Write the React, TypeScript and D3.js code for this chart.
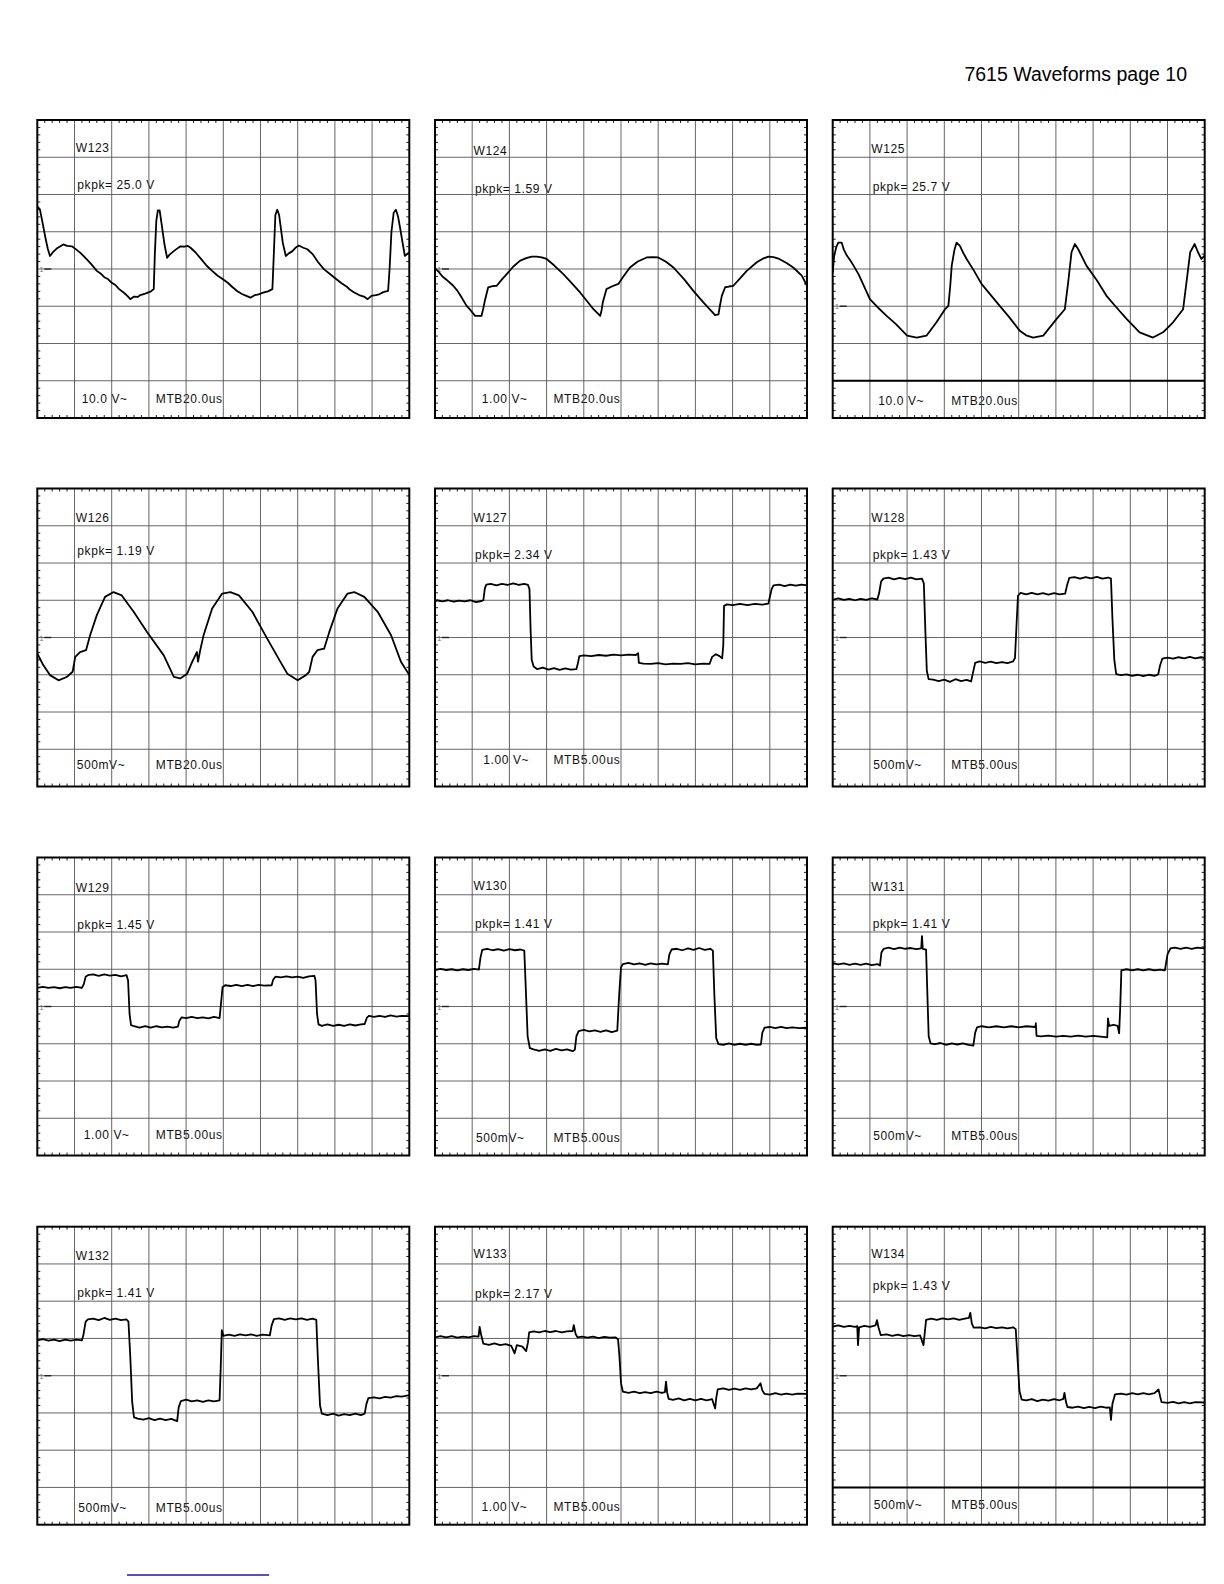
import * as d3 from "d3";

type Pt = [number, number];

// screen is 10 x 8 divisions; x in div from left, y in div above centre
const PAGE_TITLE = "7615 Waveforms page 10";
const NAMES = ["W123", "W124", "W125", "W126", "W127", "W128", "W129", "W130", "W131", "W132", "W133", "W134"];
const PKPK = ["25.0 V", "1.59 V", "25.7 V", "1.19 V", "2.34 V", "1.43 V", "1.45 V", "1.41 V", "1.41 V", "1.41 V", "2.17 V", "1.43 V"];
const VOLTS = ["10.0 V~", "1.00 V~", "10.0 V~", "500mV~", "1.00 V~", "500mV~", "1.00 V~", "500mV~", "500mV~", "500mV~", "1.00 V~", "500mV~"];
const TIMEBASE = ["MTB20.0us", "MTB20.0us", "MTB20.0us", "MTB20.0us", "MTB5.00us", "MTB5.00us", "MTB5.00us", "MTB5.00us", "MTB5.00us", "MTB5.00us", "MTB5.00us", "MTB5.00us"];
const GROUND = [0, 0, -1, 0, 0, 0, 0, 0, 0, 0, 0, 0];
const REF_LINE: (number | null)[] = [null, null, -3, null, null, null, null, null, null, null, null, -3];

const W123: Pt[] = [[0,1.68],[0.07,1.6],[0.14,1.25],[0.21,0.88],[0.28,0.55],[0.34,0.35],[0.42,0.45],[0.52,0.55],[0.6,0.6],[0.7,0.66],[0.8,0.62],[0.93,0.61],[1.05,0.52],[1.15,0.44],[1.24,0.35],[1.35,0.24],[1.45,0.13],[1.6,-0.05],[1.7,-0.12],[1.8,-0.22],[1.9,-0.27],[2.0,-0.37],[2.1,-0.43],[2.2,-0.54],[2.32,-0.63],[2.42,-0.72],[2.5,-0.81],[2.6,-0.74],[2.7,-0.75],[2.77,-0.7],[2.9,-0.66],[3.04,-0.61],[3.13,-0.54],[3.16,0.4],[3.2,1.3],[3.24,1.57],[3.29,1.57],[3.35,1.15],[3.42,0.65],[3.49,0.3],[3.55,0.38],[3.62,0.44],[3.72,0.52],[3.85,0.61],[3.95,0.6],[4.05,0.62],[4.12,0.57],[4.25,0.45],[4.4,0.27],[4.56,0.08],[4.7,-0.05],[4.85,-0.18],[5.0,-0.28],[5.12,-0.37],[5.25,-0.49],[5.37,-0.59],[5.5,-0.67],[5.62,-0.72],[5.73,-0.77],[5.85,-0.7],[5.95,-0.68],[6.09,-0.63],[6.2,-0.6],[6.32,-0.54],[6.36,0.45],[6.4,1.45],[6.45,1.59],[6.5,1.45],[6.54,1.15],[6.6,0.7],[6.68,0.35],[6.76,0.42],[6.86,0.48],[6.95,0.58],[7.03,0.63],[7.15,0.57],[7.26,0.53],[7.4,0.4],[7.55,0.18],[7.71,-0.01],[7.85,-0.12],[8.0,-0.24],[8.16,-0.37],[8.3,-0.46],[8.4,-0.55],[8.52,-0.63],[8.65,-0.7],[8.78,-0.74],[8.88,-0.81],[8.98,-0.72],[9.1,-0.7],[9.19,-0.68],[9.3,-0.62],[9.43,-0.59],[9.47,0.0],[9.52,1.0],[9.58,1.51],[9.64,1.59],[9.7,1.4],[9.76,1.06],[9.82,0.7],[9.88,0.35],[9.94,0.4],[10,0.44]];
const W124: Pt[] = [[0,0.02],[0.1,-0.08],[0.2,-0.2],[0.3,-0.28],[0.49,-0.45],[0.6,-0.58],[0.7,-0.74],[0.85,-0.99],[0.95,-1.1],[1.08,-1.26],[1.25,-1.26],[1.3,-1.05],[1.34,-0.85],[1.43,-0.49],[1.55,-0.46],[1.66,-0.45],[1.8,-0.28],[1.97,-0.09],[2.1,0.06],[2.28,0.22],[2.45,0.29],[2.6,0.33],[2.73,0.33],[2.87,0.31],[3.0,0.27],[3.2,0.1],[3.45,-0.14],[3.65,-0.35],[3.9,-0.63],[4.1,-0.88],[4.26,-1.08],[4.44,-1.26],[4.48,-1.1],[4.51,-0.9],[4.61,-0.54],[4.75,-0.47],[4.93,-0.4],[5.05,-0.22],[5.24,0.04],[5.45,0.2],[5.69,0.31],[5.85,0.32],[6.0,0.31],[6.2,0.2],[6.41,0.04],[6.7,-0.28],[6.94,-0.58],[7.12,-0.79],[7.3,-0.99],[7.45,-1.15],[7.53,-1.24],[7.62,-1.22],[7.66,-0.98],[7.71,-0.72],[7.8,-0.49],[7.9,-0.47],[8.02,-0.45],[8.2,-0.25],[8.38,-0.05],[8.65,0.18],[8.8,0.27],[8.96,0.33],[9.1,0.32],[9.23,0.28],[9.45,0.16],[9.63,0.04],[9.86,-0.18],[10,-0.45]];
const W125: Pt[] = [[0,-0.09],[0.04,0.36],[0.1,0.6],[0.15,0.71],[0.24,0.71],[0.3,0.52],[0.38,0.36],[0.48,0.22],[0.56,0.09],[0.7,-0.15],[0.85,-0.48],[1.0,-0.81],[1.2,-1.02],[1.45,-1.26],[1.7,-1.48],[2.0,-1.79],[2.26,-1.84],[2.52,-1.79],[2.79,-1.43],[3.02,-1.08],[3.11,-0.99],[3.16,-0.45],[3.2,0.09],[3.27,0.5],[3.33,0.71],[3.42,0.62],[3.5,0.45],[3.6,0.27],[3.8,-0.05],[4.0,-0.4],[4.25,-0.7],[4.49,-0.99],[4.75,-1.3],[5.03,-1.66],[5.2,-1.78],[5.39,-1.84],[5.66,-1.79],[6.02,-1.34],[6.24,-1.08],[6.33,-0.36],[6.42,0.45],[6.51,0.67],[6.6,0.53],[6.7,0.33],[6.82,0.09],[7.1,-0.3],[7.36,-0.72],[7.6,-1.0],[7.9,-1.34],[8.25,-1.7],[8.61,-1.84],[8.88,-1.7],[9.15,-1.43],[9.42,-1.08],[9.51,-0.36],[9.61,0.45],[9.73,0.67],[9.82,0.45],[9.91,0.27],[10,0.36]];
const W126: Pt[] = [[0,-0.43],[0.16,-0.74],[0.34,-1.01],[0.57,-1.15],[0.79,-1.06],[0.95,-0.92],[1.02,-0.52],[1.15,-0.39],[1.31,-0.34],[1.42,0.06],[1.6,0.6],[1.82,1.09],[2.05,1.22],[2.27,1.13],[2.59,0.69],[2.95,0.15],[3.4,-0.48],[3.67,-1.06],[3.84,-1.1],[4.03,-0.97],[4.16,-0.66],[4.29,-0.39],[4.32,-0.65],[4.38,-0.34],[4.47,0.06],[4.7,0.78],[4.97,1.18],[5.19,1.22],[5.42,1.13],[5.78,0.69],[6.18,-0.03],[6.54,-0.66],[6.72,-0.97],[7.0,-1.15],[7.22,-1.01],[7.31,-0.92],[7.4,-0.52],[7.53,-0.34],[7.71,-0.3],[7.85,0.15],[8.07,0.78],[8.34,1.18],[8.52,1.22],[8.79,1.09],[9.15,0.69],[9.51,0.06],[9.78,-0.66],[10,-1.01]];
const W127: Pt[] = [[0,0.96],[0.05,1.0],[0.2,0.97],[0.35,1.0],[0.5,0.96],[0.65,0.99],[0.8,0.97],[0.95,1.0],[1.1,0.95],[1.25,0.98],[1.3,1.0],[1.34,1.32],[1.38,1.42],[1.5,1.44],[1.65,1.4],[1.8,1.44],[1.95,1.41],[2.1,1.45],[2.25,1.41],[2.4,1.44],[2.5,1.41],[2.54,1.3],[2.57,0.2],[2.6,-0.6],[2.65,-0.78],[2.75,-0.85],[2.9,-0.81],[3.05,-0.86],[3.2,-0.82],[3.35,-0.87],[3.5,-0.83],[3.65,-0.86],[3.8,-0.85],[3.84,-0.7],[3.88,-0.5],[4.0,-0.48],[4.2,-0.5],[4.4,-0.47],[4.6,-0.49],[4.8,-0.46],[5.0,-0.48],[5.2,-0.46],[5.4,-0.47],[5.46,-0.42],[5.48,-0.68],[5.6,-0.7],[5.8,-0.71],[6.0,-0.69],[6.2,-0.72],[6.4,-0.7],[6.6,-0.71],[6.8,-0.69],[7.0,-0.72],[7.2,-0.7],[7.38,-0.71],[7.45,-0.52],[7.55,-0.45],[7.65,-0.5],[7.72,-0.56],[7.75,-0.2],[7.77,0.85],[7.85,0.89],[8.0,0.87],[8.2,0.9],[8.4,0.87],[8.6,0.9],[8.8,0.88],[8.96,0.91],[9.05,1.3],[9.1,1.4],[9.25,1.42],[9.4,1.38],[9.55,1.42],[9.7,1.39],[9.85,1.42],[10,1.4]];
const W128: Pt[] = [[0,1.01],[0.15,1.05],[0.3,1.01],[0.45,1.04],[0.6,1.0],[0.75,1.04],[0.9,1.01],[1.05,1.05],[1.2,1.02],[1.25,1.2],[1.3,1.5],[1.36,1.58],[1.5,1.61],[1.65,1.56],[1.8,1.6],[1.95,1.57],[2.1,1.61],[2.25,1.56],[2.4,1.58],[2.45,1.45],[2.49,0.2],[2.53,-0.9],[2.58,-1.12],[2.7,-1.13],[2.85,-1.17],[3.0,-1.13],[3.15,-1.19],[3.3,-1.12],[3.45,-1.17],[3.6,-1.14],[3.72,-1.18],[3.77,-0.95],[3.83,-0.68],[3.95,-0.64],[4.1,-0.68],[4.25,-0.65],[4.4,-0.69],[4.55,-0.66],[4.7,-0.69],[4.85,-0.64],[4.9,-0.55],[4.94,0.3],[4.98,1.12],[5.05,1.2],[5.2,1.16],[5.35,1.2],[5.5,1.16],[5.65,1.19],[5.8,1.15],[5.95,1.19],[6.1,1.16],[6.25,1.18],[6.3,1.4],[6.36,1.6],[6.5,1.62],[6.65,1.58],[6.8,1.62],[6.95,1.59],[7.1,1.63],[7.25,1.58],[7.4,1.61],[7.48,1.58],[7.52,0.5],[7.57,-0.6],[7.62,-0.98],[7.75,-1.01],[7.9,-0.99],[8.05,-1.03],[8.2,-1.0],[8.35,-1.04],[8.5,-1.0],[8.65,-1.03],[8.75,-0.99],[8.8,-0.75],[8.86,-0.57],[9.0,-0.54],[9.15,-0.57],[9.3,-0.53],[9.45,-0.56],[9.6,-0.52],[9.75,-0.56],[9.9,-0.53],[10,-0.55]];
const W129: Pt[] = [[0,0.5],[0.15,0.53],[0.3,0.5],[0.45,0.52],[0.6,0.49],[0.75,0.52],[0.9,0.5],[1.05,0.53],[1.2,0.5],[1.25,0.6],[1.3,0.8],[1.36,0.84],[1.5,0.86],[1.65,0.82],[1.8,0.86],[1.95,0.83],[2.1,0.85],[2.25,0.81],[2.4,0.84],[2.44,0.7],[2.48,-0.2],[2.52,-0.5],[2.6,-0.53],[2.75,-0.57],[2.9,-0.53],[3.05,-0.57],[3.2,-0.53],[3.35,-0.56],[3.5,-0.54],[3.65,-0.57],[3.78,-0.54],[3.82,-0.38],[3.88,-0.29],[4.0,-0.31],[4.15,-0.28],[4.3,-0.31],[4.45,-0.29],[4.6,-0.32],[4.75,-0.28],[4.9,-0.31],[4.94,0.1],[4.98,0.52],[5.05,0.57],[5.2,0.55],[5.35,0.58],[5.5,0.55],[5.65,0.58],[5.8,0.55],[5.95,0.58],[6.1,0.56],[6.3,0.57],[6.34,0.72],[6.4,0.8],[6.55,0.78],[6.7,0.81],[6.85,0.78],[7.0,0.8],[7.15,0.77],[7.3,0.81],[7.45,0.82],[7.48,0.7],[7.52,-0.2],[7.56,-0.48],[7.65,-0.52],[7.8,-0.48],[7.95,-0.52],[8.1,-0.49],[8.25,-0.52],[8.4,-0.48],[8.55,-0.51],[8.7,-0.48],[8.8,-0.47],[8.86,-0.3],[8.92,-0.25],[9.05,-0.28],[9.2,-0.25],[9.35,-0.28],[9.5,-0.24],[9.65,-0.27],[9.8,-0.25],[10,-0.26]];
const W130: Pt[] = [[0,0.98],[0.15,1.01],[0.3,0.98],[0.45,1.0],[0.6,0.97],[0.75,1.0],[0.9,0.98],[1.05,1.01],[1.18,0.99],[1.22,1.3],[1.27,1.52],[1.4,1.55],[1.55,1.51],[1.7,1.54],[1.85,1.5],[2.0,1.54],[2.15,1.51],[2.3,1.53],[2.4,1.5],[2.44,0.5],[2.49,-0.8],[2.55,-1.12],[2.65,-1.15],[2.8,-1.19],[2.95,-1.15],[3.1,-1.19],[3.25,-1.14],[3.4,-1.18],[3.55,-1.15],[3.7,-1.2],[3.76,-1.16],[3.8,-0.8],[3.86,-0.66],[4.0,-0.63],[4.15,-0.67],[4.3,-0.64],[4.45,-0.68],[4.6,-0.64],[4.75,-0.69],[4.9,-0.65],[4.95,0.3],[5.0,1.05],[5.05,1.14],[5.2,1.17],[5.35,1.13],[5.5,1.16],[5.65,1.12],[5.8,1.16],[5.95,1.13],[6.1,1.15],[6.26,1.13],[6.3,1.4],[6.36,1.53],[6.5,1.55],[6.65,1.51],[6.8,1.56],[6.95,1.52],[7.1,1.57],[7.25,1.52],[7.4,1.55],[7.47,1.5],[7.51,0.3],[7.56,-0.85],[7.62,-1.01],[7.75,-1.03],[7.9,-0.99],[8.05,-1.03],[8.2,-1.0],[8.35,-1.03],[8.5,-1.0],[8.65,-1.03],[8.76,-1.02],[8.8,-0.7],[8.86,-0.57],[9.0,-0.55],[9.15,-0.58],[9.3,-0.55],[9.45,-0.58],[9.6,-0.56],[9.8,-0.58],[10,-0.57]];
const W131: Pt[] = [[0,1.1],[0.02,1.16],[0.15,1.13],[0.3,1.16],[0.45,1.12],[0.6,1.15],[0.75,1.12],[0.9,1.15],[1.05,1.11],[1.2,1.14],[1.27,1.1],[1.31,1.45],[1.37,1.55],[1.5,1.58],[1.65,1.54],[1.8,1.58],[1.95,1.55],[2.1,1.57],[2.25,1.54],[2.38,1.56],[2.4,1.89],[2.42,1.55],[2.51,1.53],[2.54,0.5],[2.58,-0.8],[2.63,-0.99],[2.75,-1.01],[2.9,-0.98],[3.05,-1.03],[3.2,-0.99],[3.35,-1.02],[3.5,-0.99],[3.65,-1.03],[3.78,-1.05],[3.83,-0.7],[3.88,-0.56],[4.0,-0.53],[4.2,-0.56],[4.4,-0.53],[4.6,-0.56],[4.8,-0.53],[5.0,-0.56],[5.2,-0.53],[5.45,-0.55],[5.46,-0.45],[5.48,-0.79],[5.6,-0.8],[5.8,-0.78],[6.0,-0.81],[6.2,-0.79],[6.4,-0.81],[6.6,-0.78],[6.8,-0.81],[7.0,-0.79],[7.2,-0.81],[7.38,-0.83],[7.4,-0.32],[7.43,-0.52],[7.55,-0.49],[7.66,-0.52],[7.7,-0.72],[7.73,0.0],[7.76,0.97],[7.9,1.0],[8.05,0.97],[8.2,1.0],[8.35,0.97],[8.5,1.0],[8.65,0.97],[8.8,0.99],[8.93,0.97],[9.0,1.4],[9.08,1.56],[9.2,1.58],[9.35,1.55],[9.5,1.58],[9.65,1.55],[9.8,1.58],[10,1.56]];
const W132: Pt[] = [[0,0.95],[0.15,0.98],[0.3,0.94],[0.45,0.97],[0.6,0.93],[0.75,0.97],[0.9,0.94],[1.05,0.97],[1.2,0.95],[1.24,1.1],[1.3,1.45],[1.36,1.51],[1.5,1.53],[1.65,1.49],[1.8,1.55],[1.95,1.5],[2.1,1.53],[2.25,1.49],[2.4,1.51],[2.45,1.45],[2.5,0.5],[2.55,-0.7],[2.6,-1.12],[2.7,-1.15],[2.85,-1.18],[3.0,-1.14],[3.15,-1.19],[3.3,-1.15],[3.45,-1.19],[3.6,-1.16],[3.76,-1.22],[3.8,-0.85],[3.86,-0.68],[4.0,-0.64],[4.15,-0.69],[4.3,-0.66],[4.45,-0.7],[4.6,-0.66],[4.75,-0.69],[4.9,-0.66],[4.93,0.2],[4.96,1.22],[5.0,1.07],[5.15,1.1],[5.3,1.07],[5.45,1.11],[5.6,1.08],[5.75,1.11],[5.9,1.07],[6.05,1.1],[6.25,1.08],[6.3,1.35],[6.36,1.52],[6.5,1.54],[6.65,1.5],[6.8,1.54],[6.95,1.51],[7.1,1.54],[7.25,1.5],[7.4,1.53],[7.5,1.5],[7.54,0.5],[7.6,-0.8],[7.65,-1.02],[7.8,-1.06],[7.95,-1.02],[8.1,-1.07],[8.25,-1.03],[8.4,-1.06],[8.55,-1.02],[8.7,-1.06],[8.8,-1.02],[8.85,-0.75],[8.9,-0.6],[9.05,-0.58],[9.2,-0.61],[9.35,-0.57],[9.5,-0.59],[9.65,-0.55],[9.8,-0.56],[10,-0.52]];
const W133: Pt[] = [[0,1.03],[0.15,1.06],[0.3,1.03],[0.45,1.06],[0.6,1.02],[0.75,1.05],[0.9,1.03],[1.05,1.06],[1.17,1.05],[1.2,1.31],[1.24,1.1],[1.3,0.86],[1.45,0.83],[1.6,0.87],[1.75,0.82],[1.9,0.85],[2.05,0.8],[2.14,0.6],[2.2,0.82],[2.35,0.78],[2.45,0.66],[2.5,0.9],[2.53,1.16],[2.65,1.19],[2.8,1.16],[2.95,1.2],[3.1,1.17],[3.25,1.2],[3.4,1.16],[3.55,1.19],[3.7,1.2],[3.73,1.36],[3.78,1.12],[3.83,1.03],[3.95,1.05],[4.1,1.02],[4.25,1.05],[4.4,1.01],[4.55,1.04],[4.7,1.02],[4.85,1.03],[4.92,0.98],[4.96,0.5],[5.0,-0.2],[5.05,-0.43],[5.2,-0.46],[5.35,-0.43],[5.5,-0.47],[5.65,-0.44],[5.8,-0.47],[5.95,-0.43],[6.1,-0.46],[6.18,-0.44],[6.21,-0.16],[6.24,-0.45],[6.28,-0.62],[6.4,-0.65],[6.55,-0.61],[6.7,-0.66],[6.85,-0.62],[7.0,-0.66],[7.15,-0.62],[7.3,-0.66],[7.45,-0.63],[7.53,-0.88],[7.56,-0.6],[7.6,-0.37],[7.75,-0.34],[7.9,-0.38],[8.05,-0.35],[8.2,-0.38],[8.35,-0.34],[8.5,-0.37],[8.65,-0.34],[8.75,-0.2],[8.8,-0.4],[8.86,-0.49],[9.0,-0.51],[9.15,-0.47],[9.3,-0.51],[9.45,-0.48],[9.6,-0.51],[9.75,-0.48],[10,-0.49]];
const W134: Pt[] = [[0,1.32],[0.15,1.35],[0.3,1.31],[0.45,1.34],[0.6,1.31],[0.66,1.33],[0.68,0.82],[0.71,1.3],[0.85,1.34],[1.0,1.31],[1.15,1.35],[1.19,1.49],[1.23,1.3],[1.29,1.09],[1.45,1.11],[1.6,1.07],[1.75,1.1],[1.9,1.06],[2.05,1.09],[2.2,1.06],[2.35,1.08],[2.44,0.82],[2.47,1.1],[2.51,1.5],[2.65,1.53],[2.8,1.5],[2.95,1.54],[3.1,1.51],[3.25,1.54],[3.4,1.5],[3.55,1.53],[3.66,1.55],[3.7,1.69],[3.74,1.4],[3.79,1.29],[3.95,1.3],[4.1,1.27],[4.25,1.31],[4.4,1.28],[4.55,1.3],[4.7,1.27],[4.85,1.3],[4.92,1.25],[4.96,0.6],[5.02,-0.4],[5.08,-0.64],[5.2,-0.66],[5.35,-0.63],[5.5,-0.68],[5.65,-0.64],[5.8,-0.67],[5.95,-0.63],[6.1,-0.66],[6.2,-0.62],[6.23,-0.46],[6.27,-0.7],[6.31,-0.84],[6.45,-0.86],[6.6,-0.83],[6.75,-0.87],[6.9,-0.84],[7.05,-0.87],[7.2,-0.83],[7.35,-0.86],[7.45,-0.85],[7.48,-1.19],[7.52,-0.75],[7.59,-0.5],[7.75,-0.48],[7.9,-0.51],[8.05,-0.47],[8.2,-0.5],[8.35,-0.47],[8.5,-0.5],[8.65,-0.47],[8.76,-0.37],[8.8,-0.55],[8.84,-0.71],[9.0,-0.73],[9.15,-0.7],[9.3,-0.74],[9.45,-0.71],[9.6,-0.74],[9.75,-0.71],[10,-0.72]];

const TRACES = [W123, W124, W125, W126, W127, W128, W129, W130, W131, W132, W133, W134];

// layout (page pixels)
const COL_X = [37.3, 435, 832.7];
const ROW_Y = [120, 488.5, 857.5, 1226.7];
const PW = 372;
const PH = 298;
// per panel label baselines: [name, pkpk, bottom, volt x]
const LABEL_POS = [
  [31.7, 69.3, 283.3, 44.4], [35, 72.7, 283.3, 46.7], [33.3, 71, 285, 45.6],
  [33.4, 66.7, 280, 39.4], [33.4, 70, 275, 48.3], [33.4, 70, 280, 40.6],
  [34.2, 71.5, 281, 46.5], [32.5, 70.2, 284, 41], [33.9, 70.5, 282, 40.6],
  [33.3, 70, 285, 41], [31.6, 71.6, 284, 46.5], [31.6, 63.3, 282.6, 41],
];

const FONT = "'Liberation Sans', Arial, Helvetica, sans-serif";

const x = d3.scaleLinear().domain([0, 10]).range([0, PW]);
const y = d3.scaleLinear().domain([-4, 4]).range([PH, 0]);
const line = d3.line<Pt>().x((d) => x(d[0])).y((d) => y(d[1]));

const Panel = ({ i }: { i: number }) => {
  const left = COL_X[i % 3];
  const top = ROW_Y[Math.floor(i / 3)];
  const [nameY, pkY, botY, voltX] = LABEL_POS[i];
  const minor = d3.range(1, 50).filter((k) => k % 5 !== 0).map((k) => k * 0.2);
  const minorY = d3.range(1, 40).filter((k) => k % 5 !== 0).map((k) => k * 0.2 - 4);
  const txt = { fontFamily: FONT, fontSize: 12, letterSpacing: 0.6, fill: "#111" };
  const ref = REF_LINE[i];
  return (
    <g transform={`translate(${left},${top})`}>
      <clipPath id={`clip${i}`}>
        <rect x={0} y={0} width={PW} height={PH} />
      </clipPath>
      <text x={38.5} y={nameY} {...txt}>{NAMES[i]}</text>
      <text x={40} y={pkY} {...txt} xmlSpace="preserve">{`pkpk= ${PKPK[i]}`}</text>
      <text x={voltX} y={botY} {...txt}>{VOLTS[i]}</text>
      <text x={118.5} y={botY} {...txt}>{TIMEBASE[i]}</text>
      {d3.range(1, 10).map((k) => (
        <line key={`v${k}`} x1={x(k)} x2={x(k)} y1={0} y2={PH} stroke="#555" strokeWidth={0.9} />
      ))}
      {d3.range(-3, 4).map((k) => (
        <line key={`h${k}`} x1={0} x2={PW} y1={y(k)} y2={y(k)} stroke="#555" strokeWidth={0.9} />
      ))}
      {minor.map((k) => (
        <g key={`mx${k}`}>
          <line x1={x(k)} x2={x(k)} y1={0} y2={3} stroke="#222" strokeWidth={1} />
          <line x1={x(k)} x2={x(k)} y1={PH - 3} y2={PH} stroke="#222" strokeWidth={1} />
        </g>
      ))}
      {minorY.map((k) => (
        <g key={`my${k}`}>
          <line x1={0} x2={3} y1={y(k)} y2={y(k)} stroke="#222" strokeWidth={1} />
          <line x1={PW - 3} x2={PW} y1={y(k)} y2={y(k)} stroke="#222" strokeWidth={1} />
        </g>
      ))}
      {ref !== null && (
        <line x1={0} x2={PW} y1={y(ref)} y2={y(ref)} stroke="#000" strokeWidth={2} />
      )}
      <text x={2} y={y(GROUND[i]) + 3} fontFamily={FONT} fontSize={8} fill="#777">1</text>
      <line x1={7} x2={14} y1={y(GROUND[i])} y2={y(GROUND[i])} stroke="#222" strokeWidth={1.4} />
      <path
        d={line(TRACES[i]) ?? ""}
        fill="none"
        stroke="#000"
        strokeWidth={1.8}
        strokeLinejoin="round"
        clipPath={`url(#clip${i})`}
      />
      <rect x={0} y={0} width={PW} height={PH} fill="none" stroke="#000" strokeWidth={2} />
    </g>
  );
};

export default function App() {
  return (
    <svg
      width={1224}
      height={1584}
      style={{ position: "absolute", left: 0, top: 0, background: "#fff" }}
    >
      <rect x={0} y={0} width={1224} height={1584} fill="#fff" />
      <text x={1187} y={81} textAnchor="end" fontFamily={FONT} fontSize={19.5} fill="#000">
        {PAGE_TITLE}
      </text>
      {NAMES.map((_, i) => (
        <Panel key={i} i={i} />
      ))}
      <line x1={127} x2={269} y1={1575} y2={1575} stroke="#1c1a9a" strokeWidth={1.6} />
    </svg>
  );
}
